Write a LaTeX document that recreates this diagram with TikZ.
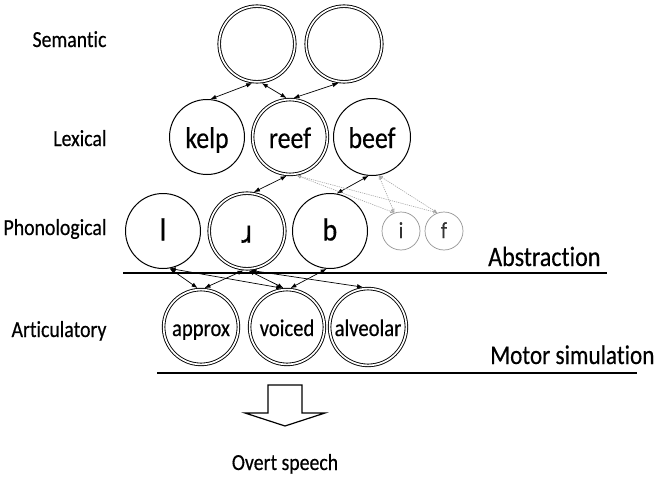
\documentclass[tikz,border=0pt]{standalone}
\usepackage{fontspec}
\setmainfont{Carlito}[FakeStretch=0.86, FakeBold=0.4, Ligatures={NoCommon}]
\newfontfamily\ipafont{DejaVu Sans}[FakeStretch=0.85, FakeBold=0.3]
\usetikzlibrary{arrows.meta}
\tikzset{
  single/.style={circle, draw, line width=1pt, inner sep=0pt, outer sep=0.5pt, minimum size=#1},
  dbl/.style={circle, draw, line width=0.9pt, double, double distance=1.7pt, inner sep=0pt, outer sep=1.7pt, minimum size=#1},
  faint/.style={circle, draw=gray!85, line width=0.7pt, inner sep=0pt, minimum size=#1, text=black!80},
  conn/.style={line width=0.7pt, {Latex[length=6pt,width=4.5pt]}-{Latex[length=6pt,width=4.5pt]}},
  gconn/.style={line width=0.55pt, draw=gray!75, dash pattern=on 1.2pt off 1pt, {Latex[open,length=4pt,width=3.5pt]}-{Latex[open,length=4pt,width=3.5pt]}},
  lvl/.style={anchor=base east, font=\fontsize{23}{25}\selectfont},
  bigword/.style={font=\fontsize{30}{32}\selectfont, text height=22pt, text depth=0pt},
  artword/.style={font=\fontsize{24}{26}\selectfont, text height=18pt, text depth=0pt},
  phword/.style={font=\fontsize{32}{34}\selectfont, text height=19pt, text depth=0pt},
  smword/.style={font=\fontsize{23}{25}\selectfont, text height=14pt, text depth=0pt},
  hline/.style={line width=2pt}
}
\begin{document}
\begin{tikzpicture}[x=1pt,y=-1pt]
\useasboundingbox (0,0) rectangle (665,479);

% level labels
\node[lvl] (lsem) at (110,47) {Semantic};
\node[lvl] (llex) at (110,146) {Lexical};
\node[lvl] (lpho) at (110,235) {Phonological};
\node[lvl] (lart) at (110,337) {Articulatory};

% semantic
\node[dbl=75.6pt] (sem1) at (257,44) {};
\node[dbl=75.6pt] (sem2) at (344,44) {};

% lexical
\node[single=75pt, bigword] (kelp) at (207,137) {kelp};
\node[dbl=74.8pt, bigword] (reef) at (290,137) {reef};
\node[single=77pt, bigword] (beef) at (372,137) {beef};

% phonological
\node[single=75pt, phword] (l) at (163,231) {l};
\node[dbl=75.6pt, font=\ipafont\fontsize{31}{33}\selectfont, text height=23pt, text depth=0pt] (rr) at (247,231) {ɹ};
\node[single=75pt, phword] (b) at (330,231) {b};
\node[faint=38pt, smword] (i) at (401,231) {i};
\node[faint=38pt, smword] (f) at (444,231) {f};

% articulatory
\node[dbl=74.8pt, artword] (approx) at (201,327) {approx};
\node[dbl=74.8pt, artword] (voiced) at (287,327) {voiced};
\node[dbl=76.8pt, artword] (alveolar) at (368,327) {alveolar};

% horizontal lines and labels
\draw[hline] (123,273) -- (607,273);
\node[anchor=base east, font=\fontsize{28}{30}\selectfont] (abs) at (604,266) {Abstraction};
\draw[hline] (157,373) -- (637,373);
\node[anchor=base east, font=\fontsize{27}{29}\selectfont] (mot) at (658,364) {Motor simulation};

% block arrow
\draw[line width=1.2pt, line join=miter] (268,385) -- (302,385) -- (302,413) -- (325,413) -- (285,426) -- (245,413) -- (268,413) -- cycle;
\node[anchor=base, font=\fontsize{23}{25}\selectfont] (overt) at (285,470) {Overt speech};

% semantic <-> lexical
\draw[conn] (sem1.263) -- (kelp.85);
\draw[conn] (sem1.277) -- (reef.95);
\draw[conn] (sem2.262) -- (reef.85);

% lexical <-> phonological
\draw[conn] (reef.265) -- (rr.80);
\draw[conn] (beef.265) -- (b.80);
\draw[gconn] (reef.280) -- (i.110);
\draw[gconn] (reef.280) -- (f.110);
\draw[gconn] (beef.280) -- (i.110);
\draw[gconn] (beef.280) -- (f.110);

% phonological <-> articulatory
\draw[conn] (l.280) -- (approx.95);
\draw[conn] (l.280) -- (voiced.97);
\draw[conn] (rr.265) -- (approx.85);
\draw[conn] (rr.272) -- (voiced.95);
\draw[conn] (rr.275) -- (alveolar.97);
\draw[conn] (b.265) -- (voiced.85);
\end{tikzpicture}
\end{document}
